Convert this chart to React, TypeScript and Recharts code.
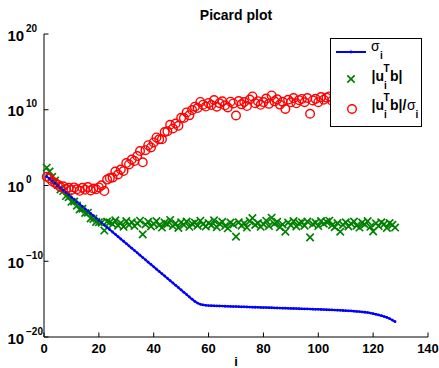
import { ComposedChart, Line, Scatter, XAxis, YAxis, Legend } from 'recharts';

const FONT = '"Liberation Sans", Arial, Helvetica, sans-serif';

// log10 of the singular values sigma_i
const sigmaExp = [
  1.2, 0.9, 0.59, 0.29, -0.02, -0.33, -0.63, -0.94, -1.24, -1.55,
  -1.86, -2.16, -2.47, -2.77, -3.08, -3.39, -3.69, -4.0, -4.3, -4.61,
  -4.92, -5.22, -5.53, -5.83, -6.14, -6.45, -6.75, -7.06, -7.36, -7.67,
  -7.98, -8.28, -8.59, -8.89, -9.2, -9.51, -9.81, -10.12, -10.42, -10.73,
  -11.04, -11.34, -11.65, -11.95, -12.26, -12.57, -12.87, -13.18, -13.48, -13.79,
  -14.1, -14.4, -14.71, -15.01, -15.3, -15.52, -15.68, -15.77, -15.82, -15.85,
  -15.87, -15.88, -15.9, -15.91, -15.92, -15.94, -15.95, -15.96, -15.98, -15.99,
  -16.0, -16.01, -16.02, -16.04, -16.05, -16.06, -16.07, -16.08, -16.1, -16.11,
  -16.12, -16.13, -16.14, -16.16, -16.17, -16.18, -16.19, -16.2, -16.22, -16.23,
  -16.24, -16.25, -16.27, -16.28, -16.29, -16.3, -16.32, -16.33, -16.34, -16.35,
  -16.37, -16.38, -16.4, -16.41, -16.43, -16.45, -16.46, -16.48, -16.5, -16.52,
  -16.54, -16.56, -16.59, -16.62, -16.65, -16.69, -16.73, -16.78, -16.84, -16.92,
  -17.0, -17.09, -17.19, -17.3, -17.42, -17.58, -17.76, -17.98,
];

// log10 |u_i^T b|
const betaExp = [
  2.35, 1.85, 1.14, 0.64, 0.08, -0.53, -0.73, -1.39, -1.54, -2.15,
  -2.11, -2.66, -3.17, -3.07, -3.63, -3.59, -4.34, -4.4, -4.8, -4.86,
  -4.9, -5.95, -4.75, -4.85, -5.1, -4.6, -5.3, -4.95, -5.45, -4.7,
  -5.2, -4.85, -5.35, -5.0, -4.65, -6.45, -5.15, -4.8, -5.4, -5.05,
  -4.7, -5.25, -5.55, -4.9, -5.1, -4.55, -5.35, -5.0, -5.6, -4.85,
  -5.2, -4.75, -5.45, -5.05, -4.9, -5.3, -4.65, -5.1, -5.4, -4.95,
  -5.25, -4.6, -5.5, -5.05, -4.8, -5.35, -5.65, -4.9, -5.15, -6.75,
  -4.85, -5.3, -5.0, -5.55, -4.7, -4.3, -5.2, -4.95, -5.45, -5.1,
  -4.65, -5.35, -4.25, -5.05, -4.8, -5.5, -5.15, -6.1, -4.9, -5.25,
  -4.7, -5.4, -5.0, -4.85, -5.3, -4.75, -6.85, -5.1, -4.9, -5.35,
  -4.7, -5.05, -4.8, -4.65, -5.25, -5.5, -4.95, -6.1, -5.2, -4.85,
  -5.4, -5.05, -4.75, -5.3, -5.55, -4.9, -5.15, -4.7, -5.45, -6.05,
  -5.0, -5.35, -4.85, -5.1, -5.6, -4.95, -5.2, -5.55,
];

// log10 |u_i^T b| / sigma_i
const ratioExp = [
  1.15, 0.95, 0.55, 0.35, 0.1, -0.2, -0.1, -0.45, -0.3, -0.6,
  -0.25, -0.5, -0.7, -0.3, -0.55, -0.2, -0.65, -0.4, -0.5, -0.25,
  0.02, -0.73, 0.78, 0.98, 1.04, 1.85, 1.45, 2.11, 1.91, 2.97,
  2.78, 3.43, 3.24, 3.89, 4.55, 3.06, 4.66, 5.32, 5.02, 5.68,
  6.34, 6.09, 6.1, 7.05, 7.16, 8.02, 7.52, 8.18, 7.88, 8.94,
  8.9, 9.65, 9.26, 9.96, 10.4, 10.22, 11.03, 10.67, 10.42, 10.9,
  10.62, 11.28, 10.4, 10.86, 11.12, 10.59, 10.3, 11.06, 10.83, 9.24,
  11.15, 10.71, 11.02, 10.49, 11.35, 11.76, 10.87, 11.13, 10.65, 11.01,
  11.47, 10.78, 11.89, 11.11, 11.37, 10.68, 11.04, 10.1, 11.32, 10.98,
  11.54, 10.85, 11.27, 11.43, 10.99, 11.55, 9.47, 11.23, 11.44, 11.0,
  11.67, 11.33, 11.6, 11.76, 11.18, 10.95, 11.51, 10.38, 11.3, 11.67,
  11.14, 11.51, 11.84, 11.32, 11.1, 11.79, 11.58, 12.08, 11.39, 10.87,
  12.0, 11.74, 12.34, 12.2, 11.82, 12.63, 12.56, 12.43,
];

const xTicks = [0, 20, 40, 60, 80, 100, 120, 140];
const yTicks = [1e-20, 1e-10, 1, 1e10, 1e20];

const rows = sigmaExp.map((s, k) => ({
  i: k + 1,
  sigma: 10 ** s,
  beta: 10 ** betaExp[k],
  ratio: 10 ** ratioExp[k],
}));

const TICK = 4.5;

const BottomTick = ({ x, y, payload }: any) => (
  <g>
    <line x1={x} y1={y} x2={x} y2={y - TICK} stroke="#000" />
    <text x={x} y={y + 16} textAnchor="middle" fontSize={13} fontWeight="bold" fontFamily={FONT} fill="#000">
      {payload.value}
    </text>
  </g>
);

const TopTick = ({ x, y }: any) => <line x1={x} y1={y} x2={x} y2={y + TICK} stroke="#000" />;

const LeftTick = ({ x, y, payload }: any) => {
  const p = Math.round(Math.log10(payload.value));
  return (
    <g>
      <line x1={x} y1={y} x2={x + TICK} y2={y} stroke="#000" />
      <text x={7.5} y={y + 6.5} fontSize={15} fontWeight="bold" fontFamily={FONT} fill="#000">10</text>
      <text x={26} y={y - 2.5} fontSize={10} fontWeight="bold" fontFamily={FONT} fill="#000">
        {p < 0 ? `\u2212${-p}` : `${p}`}
      </text>
    </g>
  );
};

const RightTick = ({ x, y }: any) => <line x1={x} y1={y} x2={x - TICK} y2={y} stroke="#000" />;

const Cross = ({ cx, cy }: any) => (
  <g stroke="#008000" strokeWidth={1.7}>
    <line x1={cx - 3.7} y1={cy - 3.7} x2={cx + 3.7} y2={cy + 3.7} />
    <line x1={cx - 3.7} y1={cy + 3.7} x2={cx + 3.7} y2={cy - 3.7} />
  </g>
);

const Ring = ({ cx, cy }: any) => (
  <circle cx={cx} cy={cy} r={4.3} fill="none" stroke="#ff0000" strokeWidth={1.4} />
);

const Dot = ({ cx, cy }: any) => <circle cx={cx} cy={cy} r={1.4} fill="#0000ff" />;

const sub = { fontSize: 10, fontWeight: 'bold' as const };

const PicardLegend = () => (
  <svg width={92} height={89} style={{ display: 'block' }}>
    <rect x={0.5} y={0.5} width={91} height={88} fill="#fff" stroke="#000" />
    <g fontFamily={FONT} fill="#000">
      <line x1={6} y1={14} x2={36} y2={14} stroke="#0000ff" strokeWidth={2} />
      <circle cx={21} cy={14} r={1.4} fill="#0000ff" />
      <text x={41} y={13} fontSize={14}>σ</text>
      <text x={50} y={21} {...sub}>i</text>

      <Cross cx={21} cy={41} />
      <text x={41.5} y={43} fontSize={14} fontWeight="bold">|u</text>
      <text x={53.5} y={34} {...sub}>T</text>
      <text x={54} y={51} {...sub}>i</text>
      <text x={60} y={43} fontSize={14} fontWeight="bold">b|</text>

      <Ring cx={22} cy={71} />
      <text x={41.5} y={72} fontSize={14} fontWeight="bold">|u</text>
      <text x={53.5} y={63} {...sub}>T</text>
      <text x={54} y={80} {...sub}>i</text>
      <text x={60} y={72} fontSize={14} fontWeight="bold">b|/</text>
      <text x={77} y={72} fontSize={14}>σ</text>
      <text x={85.5} y={80} {...sub}>i</text>
    </g>
  </svg>
);

export default function App() {
  return (
    <div style={{ position: 'absolute', left: 0, top: 0, width: 439, height: 368, background: '#fff' }}>
      <ComposedChart width={439} height={368} data={rows} margin={{ top: 34, right: 11, bottom: 0, left: 0 }}>
        <XAxis
          dataKey="i"
          type="number"
          domain={[0, 140]}
          ticks={xTicks}
          interval={0}
          height={31}
          tickSize={0}
          tickMargin={0}
          tickLine={false}
          axisLine={{ stroke: '#000' }}
          tick={<BottomTick />}
        />
        <XAxis
          xAxisId="top"
          dataKey="i"
          orientation="top"
          type="number"
          domain={[0, 140]}
          ticks={xTicks}
          interval={0}
          height={0}
          tickSize={0}
          tickMargin={0}
          tickLine={false}
          axisLine={{ stroke: '#000' }}
          tick={<TopTick />}
        />
        <YAxis
          type="number"
          scale="log"
          domain={[1e-20, 1e20]}
          allowDataOverflow
          ticks={yTicks}
          interval={0}
          width={44}
          tickSize={0}
          tickMargin={0}
          tickLine={false}
          axisLine={{ stroke: '#000' }}
          tick={<LeftTick />}
        />
        <YAxis
          yAxisId="right"
          orientation="right"
          type="number"
          scale="log"
          domain={[1e-20, 1e20]}
          allowDataOverflow
          ticks={yTicks}
          interval={0}
          width={0}
          tickSize={0}
          tickMargin={0}
          tickLine={false}
          axisLine={{ stroke: '#000' }}
          tick={<RightTick />}
        />
        <Line
          dataKey="sigma"
          stroke="#0000ff"
          strokeWidth={2}
          dot={<Dot />}
          activeDot={false}
          isAnimationActive={false}
        />
        <Scatter dataKey="beta" shape={<Cross />} isAnimationActive={false} />
        <Scatter dataKey="ratio" shape={<Ring />} isAnimationActive={false} />
        <Legend
          layout="horizontal"
          verticalAlign="middle"
          align="center"
          content={<PicardLegend />}
          wrapperStyle={{ left: 330, top: 38, width: 92, height: 89 }}
        />
        <text x={236} y={20} textAnchor="middle" fontSize={14} fontWeight="bold" fontFamily={FONT} fill="#000">
          Picard plot
        </text>
        <text x={236} y={366} textAnchor="middle" fontSize={13} fontWeight="bold" fontFamily={FONT} fill="#000">
          i
        </text>
      </ComposedChart>
    </div>
  );
}
